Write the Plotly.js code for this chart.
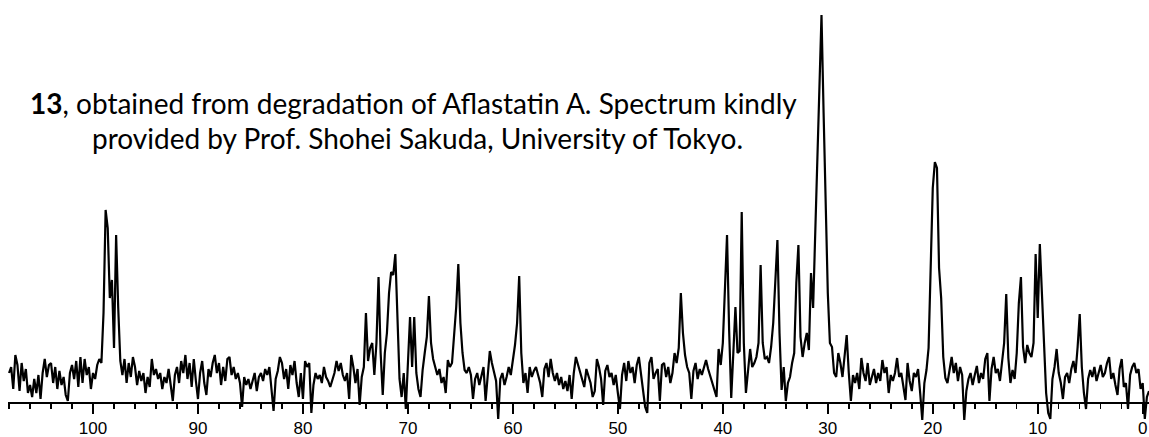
<!DOCTYPE html>
<html><head><meta charset="utf-8">
<script src="https://cdn.plot.ly/plotly-3.0.1.min.js"></script>
<style>html,body{margin:0;padding:0;background:#fff}#chart{width:1149px;height:437px}</style>
</head><body><div id="chart"></div>
<script>
const ppmStart = 108.0;
const ppmStep = -0.2;
const intensity = [
30,36,14,48,38,12,40,22,34,10,
18,6,24,10,28,4,30,44,26,38,
40,20,36,14,32,18,26,8,2,30,
38,24,42,16,46,20,44,28,36,14,
30,24,38,44,40,90,193,175,105,123,
55,168,95,42,28,44,20,40,26,46,
36,18,32,22,30,10,26,16,44,28,
34,24,30,14,26,20,34,18,2,28,
36,20,42,30,48,24,40,16,44,22,
4,30,42,20,8,34,26,40,48,30,
40,18,36,22,44,46,28,36,24,30,
20,-4,26,18,24,14,22,30,12,26,
30,22,34,28,36,16,-8,24,32,46,
40,24,34,14,38,28,42,20,6,30,
4,42,36,40,-10,18,30,24,28,20,
36,26,22,16,24,30,42,32,40,28,
22,30,4,48,36,20,34,-2,26,36,
90,42,55,60,28,60,126,50,8,50,
70,110,131,128,149,80,24,6,30,-6,
40,86,36,86,30,14,6,33,50,66,
107,60,44,36,28,34,20,26,10,43,
36,40,66,96,139,80,50,33,30,36,
28,4,24,30,18,26,36,2,30,52,
40,30,22,-16,24,30,18,26,36,28,
44,58,80,127,50,20,30,10,36,26,
32,36,28,20,6,34,40,26,44,30,
22,30,18,26,14,22,12,28,4,30,
46,38,30,24,16,34,26,20,6,12,
44,36,24,-2,32,38,26,30,18,28,
10,-6,28,40,22,42,30,36,20,38,
46,30,12,-4,-10,40,46,24,30,34,
2,38,40,26,36,20,30,50,40,55,
110,70,48,36,30,4,32,40,24,34,
28,36,43,34,27,20,12,6,54,38,
60,110,168,73,5,50,96,50,52,191,
60,10,30,54,36,40,46,60,138,60,
44,46,40,56,80,130,163,70,13,36,
2,20,26,40,50,120,158,66,46,60,
70,53,130,95,170,250,330,388,290,200,
110,60,56,30,26,50,40,26,50,68,
30,2,28,20,30,14,45,30,22,40,
18,26,34,20,30,22,43,30,36,10,
28,22,30,45,26,30,14,3,40,22,
12,30,26,34,10,-17,20,33,55,140,
215,241,235,135,105,46,25,20,34,46,
30,40,22,36,28,-17,12,24,30,18,
28,37,20,30,24,44,50,2,34,46,
30,34,22,40,60,109,45,20,33,24,
50,100,126,56,40,58,50,46,60,149,
85,159,110,50,10,-10,-16,24,36,54,
30,20,4,26,30,20,34,42,30,56,
89,36,10,-6,24,33,26,36,22,30,
38,26,30,40,46,24,30,18,8,34,
44,16,20,-6,28,36,40,30,34,14,
20,-16,6,12
];
const tickValues = [100, 90, 80, 70, 60, 50, 40, 30, 20, 10, 0];
const tickLabels = ['100', '90', '80', '70', '60', '50', '40', '30', '20', '10', '0'];
const captionLine1 = '<b>13</b>, obtained from degradation of Aflastatin A. Spectrum kindly';
const captionLine2 = 'provided by Prof. Shohei Sakuda, University of Tokyo.';

const ppm = intensity.map((_, i) => +(ppmStart + ppmStep * i).toFixed(2));

const yMin = -20, yMax = 390;
const trace = {
  type: 'scatter', mode: 'lines',
  x: ppm, y: intensity,
  line: {color: '#000', width: 2.2},
  hoverinfo: 'skip'
};
const capFont = {family: 'Lato, "Open Sans", sans-serif', size: 28, color: '#000'};
const layout = {
  width: 1149, height: 437,
  margin: {l: 8, r: 0, t: 13, b: 14, pad: 0},
  paper_bgcolor: '#fff', plot_bgcolor: '#fff',
  showlegend: false,
  xaxis: {
    range: [108.1, -0.6],
    tickmode: 'array', tickvals: tickValues, ticktext: tickLabels,
    ticks: 'outside', ticklen: 10, tickwidth: 2, tickcolor: '#000',
    showline: true, linewidth: 2, linecolor: '#000',
    showgrid: false, zeroline: false,
    anchor: 'free', position: (0 - yMin) / (yMax - yMin),
    tickfont: {family: '"Liberation Sans", Arial, sans-serif', size: 17, color: '#000'},
    minor: {tickmode: 'linear', tick0: 0, dtick: 2, ticks: 'outside', ticklen: 5, tickwidth: 1.5, tickcolor: '#000', showgrid: false}
  },
  yaxis: {range: [yMin, yMax], visible: false, showgrid: false, zeroline: false},
  annotations: [
    {text: captionLine1, xref: 'paper', yref: 'paper', x: (413.5 - 8) / 1141, y: (423 - 103) / 410,
     xanchor: 'center', yanchor: 'middle', showarrow: false, font: capFont},
    {text: captionLine2, xref: 'paper', yref: 'paper', x: (417 - 8) / 1141, y: (423 - 138) / 410,
     xanchor: 'center', yanchor: 'middle', showarrow: false, font: capFont}
  ]
};
Plotly.newPlot('chart', [trace], layout, {displayModeBar: false, staticPlot: true});
</script>
</body></html>
